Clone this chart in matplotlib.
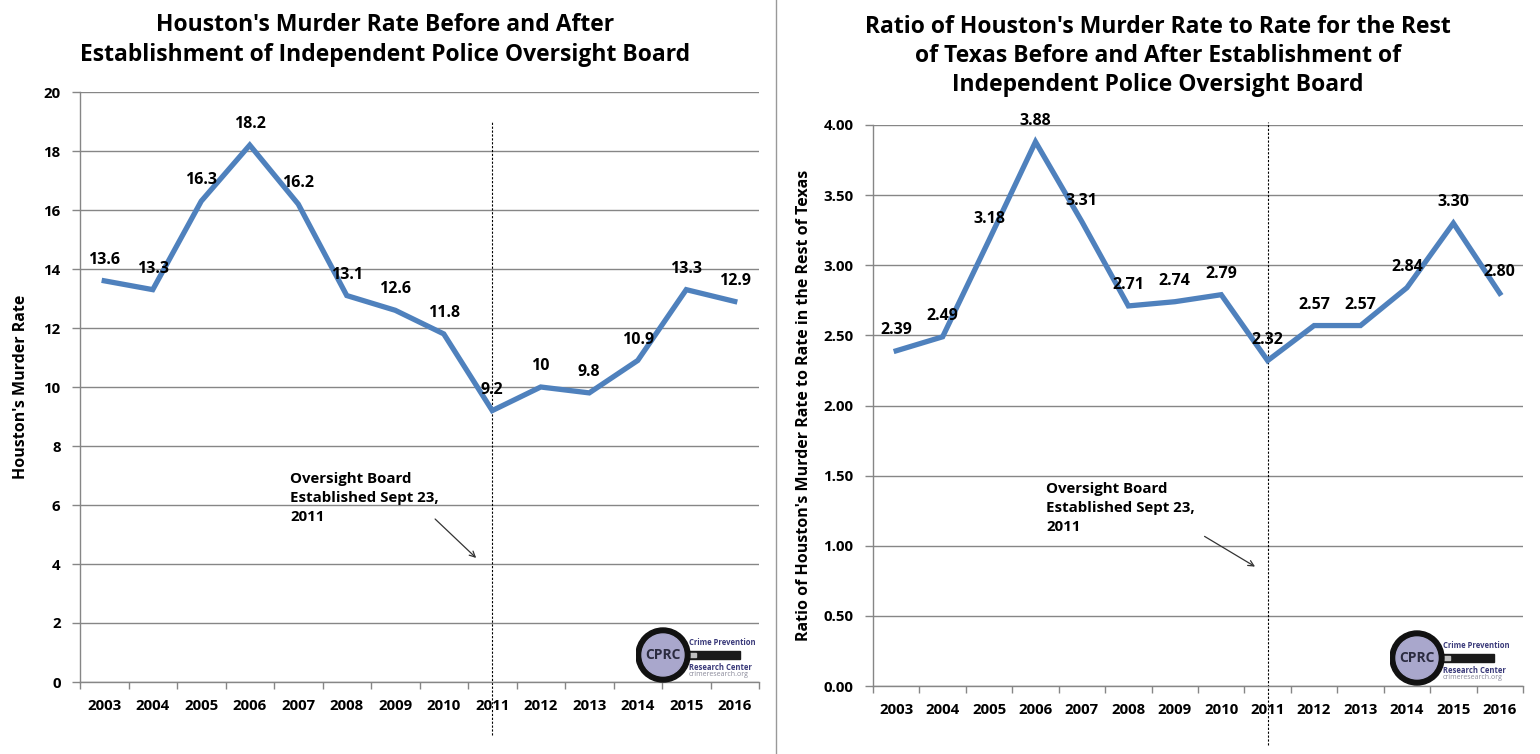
import matplotlib.pyplot as plt
from matplotlib.lines import Line2D
from matplotlib.patches import Circle, Rectangle

plt.rcParams['font.family'] = ['Open Sans', 'DejaVu Sans']
plt.rcParams['font.weight'] = 'bold'
plt.rcParams['axes.labelweight'] = 'bold'

years = ['2003', '2004', '2005', '2006', '2007', '2008', '2009',
         '2010', '2011', '2012', '2013', '2014', '2015', '2016']
murder_rate = [13.6, 13.3, 16.3, 18.2, 16.2, 13.1, 12.6, 11.8, 9.2, 10, 9.8, 10.9, 13.3, 12.9]
murder_labels = ['13.6', '13.3', '16.3', '18.2', '16.2', '13.1', '12.6',
                 '11.8', '9.2', '10', '9.8', '10.9', '13.3', '12.9']
ratio = [2.39, 2.49, 3.18, 3.88, 3.31, 2.71, 2.74, 2.79, 2.32, 2.57, 2.57, 2.84, 3.30, 2.80]
ratio_labels = [f'{v:.2f}' for v in ratio]
board_year = '2011'
note = 'Oversight Board\nEstablished Sept 23,\n2011'

left_title = "Houston's Murder Rate Before and After\nEstablishment of Independent Police Oversight Board"
right_title = ("Ratio of Houston's Murder Rate to Rate for the Rest\n"
               "of Texas Before and After Establishment of\n"
               "Independent Police Oversight Board")

LINE = '#4f81bd'
GRID = '#868686'

W, H = 1540, 754
fig = plt.figure(figsize=(W / 100, H / 100), dpi=100)


def px(x0, y0, x1, y1):
    # pixel box (top-left origin) -> figure fraction rect
    return [x0 / W, 1 - y1 / H, (x1 - x0) / W, (y1 - y0) / H]


def style_axes(ax, yticks, fmt):
    x = range(len(years))
    ax.set_xlim(-0.5, len(years) - 0.5)
    ax.set_xticks(list(x))
    ax.set_xticklabels(years)
    ax.set_xticks([i - 0.5 for i in range(len(years) + 1)], minor=True)
    ax.tick_params(axis='x', which='major', length=0, pad=12, labelsize=10.8)
    ax.tick_params(axis='x', which='minor', length=5, color=GRID, width=1)
    ax.set_yticks(yticks)
    ax.set_yticklabels([fmt.format(v) for v in yticks])
    ax.tick_params(axis='y', length=6, color=GRID, width=1, pad=8, labelsize=10.8)
    ax.set_ylim(yticks[0], yticks[-1])
    for s in ['top', 'right']:
        ax.spines[s].set_visible(False)
    for s in ['left', 'bottom']:
        ax.spines[s].set_color(GRID)
        ax.spines[s].set_linewidth(1)
    ax.grid(axis='y', color=GRID, linewidth=1)
    ax.set_axisbelow(True)


def draw_logo(rect):
    la = fig.add_axes(rect)
    la.set_xlim(0, 124)
    la.set_ylim(0, 60)
    la.set_aspect('equal')
    la.axis('off')
    la.add_patch(Rectangle((40, 26), 64, 8, color='#1a1a1a'))
    la.add_patch(Rectangle((40, 28), 20, 4, color='#bfbfbf'))
    la.add_patch(Circle((27, 30), 27, color='#111111'))
    la.add_patch(Circle((27, 30), 21, color='#a9a7cc'))
    la.text(27, 30, 'CPRC', ha='center', va='center', fontsize=10,
            color='#2b2b40', fontweight='bold')
    la.text(53, 38, 'Crime Prevention', fontsize=5.5, color='#3a3a7a', va='bottom')
    la.text(53, 22, 'Research Center', fontsize=5.5, color='#3a3a7a', va='top')
    la.text(53, 14, 'crimeresearch.org', fontsize=5, color='#8a8a9a',
            va='top', fontweight='normal')


# left chart
ax1 = fig.add_axes(px(80, 92, 759, 682))
style_axes(ax1, list(range(0, 21, 2)), '{:d}')
ax1.plot(range(len(years)), murder_rate, color=LINE, linewidth=3.8,
         solid_joinstyle='miter', zorder=3)
for i, (v, t) in enumerate(zip(murder_rate, murder_labels)):
    ax1.annotate(t, (i, v), xytext=(0, 15), textcoords='offset points',
                 ha='center', va='center', fontsize=11.5, zorder=4)
bx = years.index(board_year)
ax1.axvline(bx, ymin=-0.09, ymax=0.95, color='black', linewidth=0.8,
            linestyle=(0, (2, 1.5)), clip_on=False, zorder=2)
ax1.text(3.84, 7.12, note, ha='left', va='top', fontsize=10.8, linespacing=1.45)
ax1.annotate('', xy=(7.71, 4.14), xytext=(6.78, 5.59),
             arrowprops=dict(arrowstyle='->', color='#333333', lw=0.9))
ax1.set_ylabel("Houston's Murder Rate", fontsize=11.5, labelpad=10)
fig.text(385 / W, 1 - 40 / H, left_title, ha='center', va='center',
         fontsize=16.5, linespacing=1.3)

# right chart
ax2 = fig.add_axes(px(873, 125, 1523, 686))
style_axes(ax2, [i * 0.5 for i in range(9)], '{:.2f}')
ax2.plot(range(len(years)), ratio, color=LINE, linewidth=3.8,
         solid_joinstyle='miter', zorder=3)
for i, (v, t) in enumerate(zip(ratio, ratio_labels)):
    ax2.annotate(t, (i, v), xytext=(0, 15), textcoords='offset points',
                 ha='center', va='center', fontsize=11.5, zorder=4)
ax2.axvline(bx, ymin=-0.105, ymax=1.005, color='black', linewidth=0.8,
            linestyle=(0, (2, 1.5)), clip_on=False, zorder=2)
ax2.text(3.23, 1.455, note, ha='left', va='top', fontsize=10.8, linespacing=1.45)
ax2.annotate('', xy=(7.78, 0.841), xytext=(6.59, 1.077),
             arrowprops=dict(arrowstyle='->', color='#333333', lw=0.9))
ax2.set_ylabel("Ratio of Houston's Murder Rate to Rate in the Rest of Texas",
               fontsize=11.5, labelpad=8)
fig.text(1158 / W, 1 - 56 / H, right_title, ha='center', va='center',
         fontsize=16.5, linespacing=1.3)

# divider between the two panels
fig.add_artist(Line2D([776 / W, 776 / W], [0, 1], color='#999999', linewidth=1))

draw_logo(px(636, 625, 760, 685))
draw_logo(px(1390, 628, 1514, 688))

fig.savefig('out.png', dpi=100)
